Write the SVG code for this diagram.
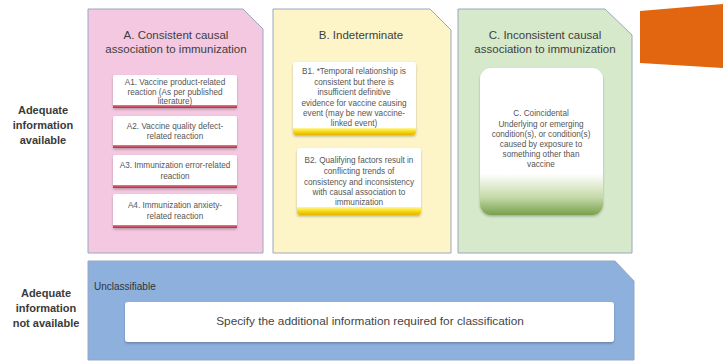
<svg xmlns="http://www.w3.org/2000/svg" width="723" height="363" viewBox="0 0 723 363">
<defs>
<style>
.lbl{font-family:"Liberation Sans",Arial,sans-serif;font-weight:bold;font-size:11px;fill:#3a3a3a;text-anchor:middle}
.ttl{font-family:"Liberation Sans",Arial,sans-serif;font-size:11.5px;fill:#404040;text-anchor:middle}
.sm{font-family:"Liberation Sans",Arial,sans-serif;font-size:8.2px;fill:#555;text-anchor:middle}
.panel{stroke:#9aa6bf;stroke-width:1}
.wbox{fill:#fff}
</style>
<linearGradient id="yel" x1="0" y1="0" x2="0" y2="1">
<stop offset="0" stop-color="#fff6a0"/><stop offset="0.5" stop-color="#f7dc10"/><stop offset="1" stop-color="#e2b300"/>
</linearGradient>
<linearGradient id="grn" x1="0" y1="0" x2="0" y2="1">
<stop offset="0" stop-color="#ffffff"/><stop offset="0.72" stop-color="#ffffff"/><stop offset="0.88" stop-color="#c4d9a8"/><stop offset="1" stop-color="#78a04c"/>
</linearGradient>
<linearGradient id="red" x1="0" y1="0" x2="0" y2="1">
<stop offset="0" stop-color="#e77d8c"/><stop offset="1" stop-color="#b8283e"/>
</linearGradient>
<filter id="sh" x="-10%" y="-10%" width="120%" height="130%">
<feDropShadow dx="0" dy="1.5" stdDeviation="1.2" flood-color="#000" flood-opacity="0.25"/>
</filter>
</defs>
<rect width="723" height="363" fill="#fff"/>

<g id="orange-shape">
<path d="M640 11 L723 4 L723 68 L640 63 Z" fill="#e2650f"/>
</g>

<g id="label-available">
<text class="lbl" x="43" y="114">Adequate</text>
<text class="lbl" x="43" y="129">information</text>
<text class="lbl" x="43" y="144">available</text>
</g>
<g id="label-not-available">
<text class="lbl" x="46" y="297">Adequate</text>
<text class="lbl" x="46" y="312">information</text>
<text class="lbl" x="46" y="327">not available</text>
</g>

<g id="panel-A">
<path class="panel" d="M88 9 H243 L263 29 V253 H88 Z" fill="#f3c8e0"/>
<text class="ttl" x="176" y="39">A. Consistent causal</text>
<text class="ttl" x="176" y="53">association to immunization</text>
</g>
<g id="A1">
<rect x="113" y="75" width="124" height="33" rx="2" class="wbox" filter="url(#sh)"/>
<rect x="113" y="105" width="124" height="3" fill="url(#red)"/>
<text class="sm" x="175" y="85">A1. Vaccine product-related</text>
<text class="sm" x="175" y="95">reaction (As per published</text>
<text class="sm" x="175" y="104">literature)</text>
</g>
<g id="A2">
<rect x="113" y="116" width="124" height="32" rx="2" class="wbox" filter="url(#sh)"/>
<rect x="113" y="145" width="124" height="3" fill="url(#red)"/>
<text class="sm" x="175" y="129">A2. Vaccine quality defect-</text>
<text class="sm" x="175" y="139">related reaction</text>
</g>
<g id="A3">
<rect x="113" y="155" width="124" height="33" rx="2" class="wbox" filter="url(#sh)"/>
<rect x="113" y="185" width="124" height="3" fill="url(#red)"/>
<text class="sm" x="175" y="168">A3. Immunization error-related</text>
<text class="sm" x="175" y="179">reaction</text>
</g>
<g id="A4">
<rect x="113" y="194" width="124" height="34" rx="2" class="wbox" filter="url(#sh)"/>
<rect x="113" y="225" width="124" height="3" fill="url(#red)"/>
<text class="sm" x="175" y="208">A4. Immunization anxiety-</text>
<text class="sm" x="175" y="219">related reaction</text>
</g>

<g id="panel-B">
<path class="panel" d="M273 9 H430 L451 30 V253 H273 Z" fill="#fdf4c8"/>
<text class="ttl" x="361" y="39">B. Indeterminate</text>
</g>
<g id="B1">
<rect x="293" y="62" width="123" height="73" rx="3" class="wbox" filter="url(#sh)"/>
<path d="M293 128 H416 V132 Q416 135 413 135 H296 Q293 135 293 132 Z" fill="url(#yel)"/>
<text class="sm" x="354" y="74">B1. *Temporal relationship is</text>
<text class="sm" x="354" y="84.5">consistent but there is</text>
<text class="sm" x="354" y="95">insufficient definitive</text>
<text class="sm" x="354" y="105.5">evidence for vaccine causing</text>
<text class="sm" x="354" y="116">event (may be new vaccine-</text>
<text class="sm" x="354" y="126">linked event)</text>
</g>
<g id="B2">
<rect x="297" y="148" width="124" height="67" rx="3" class="wbox" filter="url(#sh)"/>
<path d="M297 207 H421 V212 Q421 215 418 215 H300 Q297 215 297 212 Z" fill="url(#yel)"/>
<text class="sm" x="359" y="163">B2. Qualifying factors result in</text>
<text class="sm" x="359" y="174">conflicting trends of</text>
<text class="sm" x="359" y="185">consistency and inconsistency</text>
<text class="sm" x="359" y="195">with causal association to</text>
<text class="sm" x="359" y="205">immunization</text>
</g>

<g id="panel-C">
<path class="panel" d="M458 9 H605 L632 35 V253 H458 Z" fill="#d6e9cb"/>
<text class="ttl" x="545" y="39">C. Inconsistent causal</text>
<text class="ttl" x="545" y="53">association to immunization</text>
</g>
<g id="C1">
<rect x="480" y="68" width="123" height="147" rx="11" fill="url(#grn)" filter="url(#sh)"/>
<text class="sm" x="541" y="116">C. Coincidental</text>
<text class="sm" x="541" y="127">Underlying or emerging</text>
<text class="sm" x="541" y="137">condition(s), or condition(s)</text>
<text class="sm" x="541" y="147">caused by exposure to</text>
<text class="sm" x="541" y="157">something other than</text>
<text class="sm" x="541" y="167">vaccine</text>
</g>

<g id="panel-unclassifiable">
<path class="panel" d="M88 261 H615 L634 281 V360 H88 Z" fill="#8db0dd"/>
<text x="94" y="290" font-family="'Liberation Sans',Arial,sans-serif" font-size="10px" fill="#333">Unclassifiable</text>
</g>
<g id="U1">
<rect x="125" y="302" width="489" height="40" rx="3" class="wbox" filter="url(#sh)"/>
<text x="370" y="325" font-family="'Liberation Sans',Arial,sans-serif" font-size="11.8px" fill="#444" text-anchor="middle">Specify the additional information required for classification</text>
</g>

<g id="connectors"></g>
</svg>
